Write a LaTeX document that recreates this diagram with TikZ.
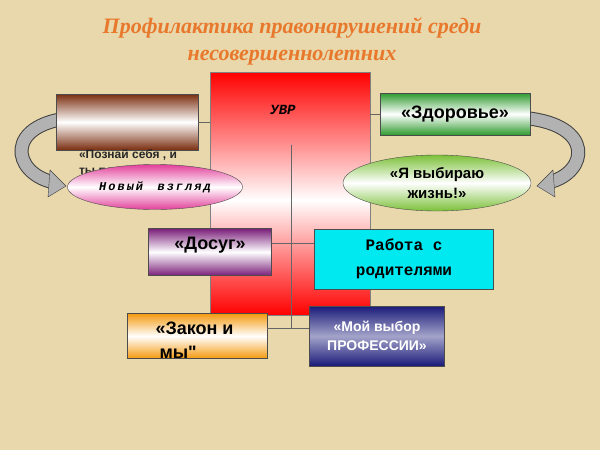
\documentclass[tikz,border=0pt]{standalone}
\usepackage{fontspec}
\setmainfont{Liberation Sans}[Ligatures=TeXOff]
\newfontfamily\serifb{Liberation Serif Bold Italic}
\newfontfamily\monob{Liberation Mono}
\usetikzlibrary{shapes.geometric,shadings}
\definecolor{bg}{HTML}{E9D8AC}
\definecolor{ttl}{HTML}{E8782C}
\definecolor{brn}{HTML}{7A2E10}
\definecolor{grn}{HTML}{2E9A2E}
\definecolor{pur}{HTML}{7A1F7A}
\definecolor{cya}{HTML}{00E8F0}
\definecolor{org}{HTML}{F59A10}
\definecolor{nav}{HTML}{1A1A7A}
\definecolor{pnk}{HTML}{E2409A}
\definecolor{lgr}{HTML}{7CC03A}
\tikzset{
 box/.style={draw=black!70,minimum width=#1,inner sep=0pt,align=center,font=\bfseries\fontsize{18}{20}\selectfont},
 conn/.style={draw=black!60,line width=0.5pt},
 curv/.style={line width=14pt,draw=black!75},
 curvin/.style={line width=12pt,draw=black!30},
}
\begin{document}
\begin{tikzpicture}[x=1pt,y=-1pt]
\fill[bg] (0,0) rectangle (600,450);
\useasboundingbox (0,0) rectangle (600,450);
\node[font=\serifb\fontsize{22}{27}\selectfont,text=ttl,align=center] (title) at (292,41) {Профилактика правонарушений среди\\несовершеннолетних};
% red big block
\shade[top color=red,bottom color=white] (210,72) rectangle (370,200);
\shade[top color=white,bottom color=red] (210,200) rectangle (370,315);
\draw[black!50,line width=0.3pt] (210,72) rectangle (370,315);
\node[font=\monob\bfseries\itshape\fontsize{14}{15}\selectfont] (uvr) at (283,110) {УВР};
\coordinate (vtop) at (291,145);
\coordinate (vbot) at (291,328);
\draw[conn] (vtop) -- (vbot);
% left arrow
\draw[curv] (70,118) .. controls (5,125) and (12,172) .. (52,182);
\draw[curvin] (70,118) .. controls (5,125) and (12,172) .. (52,182);
\filldraw[fill=black!30,draw=black!75] (50,170) -- (66,186) -- (48,197) -- cycle;
% right arrow
\draw[curv] (525,118) .. controls (595,125) and (588,172) .. (550,182);
\draw[curvin] (525,118) .. controls (595,125) and (588,172) .. (550,182);
\filldraw[fill=black!30,draw=black!75] (553,170) -- (537,186) -- (555,197) -- cycle;
% brown box
\shade[top color=brn,bottom color=brn,middle color=white] (56,94) rectangle (198,150);
\node[draw=black!70,minimum width=142pt,minimum height=56pt,inner sep=0pt] (brown) at (127,122) {};
\node[font=\bfseries\fontsize{12}{16}\selectfont,text=black!85,align=left] (pozn) at (128,162) {«Познай себя , и\\ты по};
% pink ellipse
\node[ellipse,draw=black!70,minimum width=175pt,minimum height=45pt,inner sep=0pt,
 shading=axis,top color=pnk,bottom color=pnk,middle color=white,font=\monob\bfseries\itshape\fontsize{12}{13}\selectfont] (nv) at (155,187) {Н\,о\,в\,ы\,й\ \ в\,з\,г\,л\,я\,д};
% green box
\node[box=150pt,minimum height=42pt,shading=axis,top color=grn,bottom color=grn,middle color=white] (zd) at (455,114) {«Здоровье»};
% green ellipse
\node[ellipse,draw=black!70,minimum width=188pt,minimum height=56pt,inner sep=0pt,
 shading=axis,top color=lgr,bottom color=lgr,middle color=white,align=center,font=\bfseries\fontsize{15}{20}\selectfont] (ya) at (437,183) {«Я выбираю\\жизнь!»};
% dosug
\node[box=123pt,minimum height=47pt,shading=axis,top color=pur,bottom color=pur,middle color=white,text depth=18pt] (ds) at (210,252) {«Досуг»};
% rabota
\node[box=179pt,minimum height=60pt,fill=cya,font=\monob\bfseries\fontsize{16}{25}\selectfont] (rb) at (404,259) {Работа с\\родителями};
% zakon
\node[draw=black!70,minimum width=140pt,minimum height=45pt,inner sep=0pt,shading=axis,top color=org,bottom color=org,middle color=white] (zk) at (197,336) {};
\node[font=\bfseries\fontsize{18}{24}\selectfont,align=left,anchor=north west] (zkt) at (152,318) {«Закон и\\\hspace*{4pt}мы"};
% moy vybor
\node[box=135pt,minimum height=60pt,shading=axis,top color=nav,bottom color=nav,middle color=white!60!nav,text=white,font=\bfseries\fontsize{14}{19}\selectfont] (mv) at (377,336) {«Мой выбор\\ПРОФЕССИИ»};
% connectors
\draw[conn] (brown.east) -- (brown.east -| 210,0);
\draw[conn] (zd.west) -- ++(-10,0);
\draw[conn] (ds.east |- 0,243) -- (rb.west |- 0,243);
\draw[conn] (zk.east |- 0,328) -- (mv.west |- 0,328);
\end{tikzpicture}
\end{document}
